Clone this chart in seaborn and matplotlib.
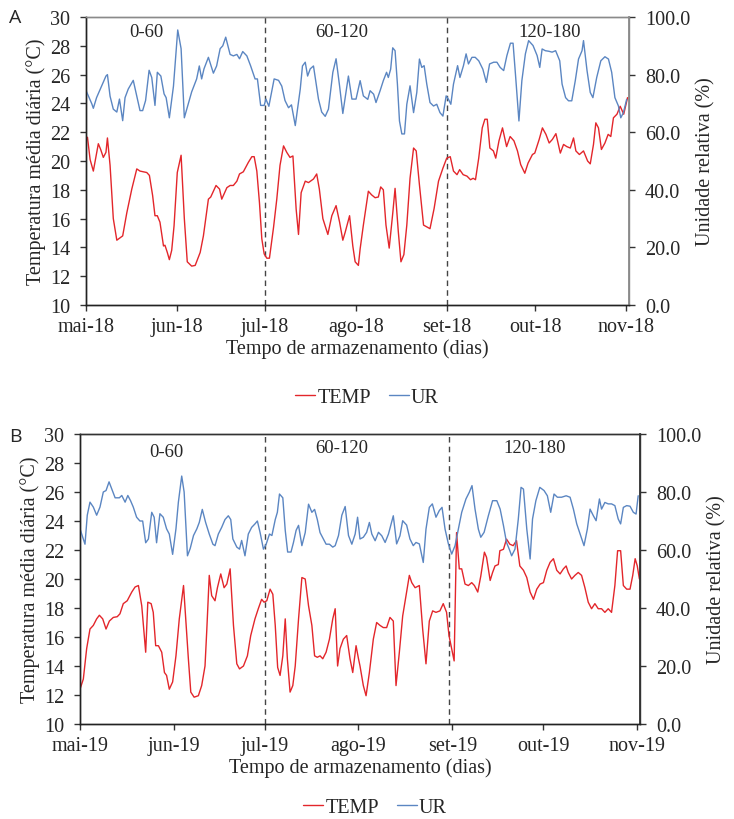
import numpy as np
import pandas as pd
import matplotlib
matplotlib.use("Agg")
import matplotlib.pyplot as plt
import seaborn as sns

# ---------------- data ----------------
periods = ["0-60", "60-120", "120-180"]
series_names = ["TEMP", "UR"]

xlabels_a = ["mai-18", "jun-18", "jul-18", "ago-18", "set-18", "out-18", "nov-18"]
xlabels_b = ["mai-19", "jun-19", "jul-19", "ago-19", "set-19", "out-19", "nov-19"]
month_offsets = [0, 31, 61, 92, 123, 153, 184]   # days after 1 May

# Panel A (2018) - temperature (°C), day offsets after 1 May
a_temp_day = [0.5, 1.4, 2.5, 4.2, 5, 5.9, 6.8, 7.3, 8.2, 9.3, 10.5, 12.5, 13.9, 15.6, 17.3, 18.4,
              20.7, 21.6, 22.7, 23.5, 24.3, 25.2, 26.4, 26.9, 27.7, 28.4, 29.2, 30, 31.1, 32.4,
              33.5, 34.5, 36, 37.2, 38.9, 40, 41.7, 42.5, 44.3, 45.5, 46.25, 48, 49.1, 50.2,
              51.4, 52.3, 53.6, 55.3, 56.5, 57.3, 58.2, 59.1, 59.9, 60.7, 61.6, 62.5, 63.9, 65,
              66.1, 67.3, 68.4, 69.5, 70.5, 71.6, 72.4, 73.3, 74.7, 75.8, 77.5, 78.6, 79.5,
              80.7, 82.4, 83.75, 85.2, 86.4, 87.5, 88.3, 89.8, 90.9, 91.7, 92.8,
              93.4, 94.5, 96.2, 97.3, 98.5, 99.6, 100.4, 101.3, 102.2, 103.3, 104.5, 105.3,
              106.4, 107.3, 108.3, 109.3, 110.4, 111.6, 112.5, 113.6, 115, 115.9, 117.2, 118.6,
              120.1, 121.6, 122.9, 124.1, 125.2, 126.4, 127.3, 128.5, 129.8, 131, 131.9, 132.7,
              133.8, 135, 135.9, 136.7, 137.6, 138.8, 139.6, 140.7, 141.9, 143.3, 144.5, 145.8,
              147, 148.1, 149.5, 150.6, 152.1, 152.9, 154.4, 155.5, 156.7, 157.8, 158.9, 160.1,
              161.6, 162.7, 163.8, 165, 166.1, 166.9, 168.1, 169.5, 170.9, 171.8, 172.9, 173.7,
              174.6, 175.6, 176.8, 177.9, 178.8, 179.7, 180.9, 182, 183.2, 184.5]
a_temp = [21.65, 20.1, 19.3, 21.2, 20.8, 20.25, 20.6, 21.6, 19.7, 16.0, 14.5, 14.8, 16.4, 18.05,
          19.45, 19.3, 19.2, 19.0, 17.6, 16.2, 16.2, 15.75, 14.1, 14.15, 13.65, 13.15, 13.8, 15.5,
          19.2, 20.4, 16.0, 13.0, 12.7, 12.75, 13.65, 14.8, 17.35, 17.5, 18.3, 18.05, 17.35,
          18.15, 18.3, 18.3, 18.6, 19.1, 19.25, 19.9, 20.3, 20.3, 19.3, 17.1, 14.6, 13.55, 13.25,
          13.25, 15.4, 17.35, 19.7, 21.05, 20.6, 20.25, 20.35, 16.65, 14.9, 17.8, 18.6, 18.5,
          18.75, 19.1, 18.05, 16.0, 14.9, 16.2, 16.9, 15.75, 14.5, 15.05, 16.2, 14.1, 13.0, 12.75,
          13.9, 15.55, 17.9, 17.65, 17.45, 17.5, 18.2, 18.0, 15.55, 13.95, 16.35, 18.1, 15.1,
          13.0, 13.5, 15.55, 18.8, 20.9, 20.7, 18.35, 15.55, 15.45, 15.3, 16.7, 18.6, 19.5, 20.2,
          20.3, 19.3, 19.05, 19.4, 19.05, 18.95, 18.7, 18.8, 18.7, 20.2, 22.3, 22.9, 22.9, 20.9,
          20.7, 20.2, 21.4, 22.3, 21.0, 21.7, 21.4, 20.7, 19.75, 19.15, 19.85, 20.45, 20.55,
          21.5, 22.3, 21.85, 21.25, 21.5, 21.9, 20.55, 21.15, 21.0, 20.9, 21.6, 20.7, 20.45,
          20.7, 20.0, 19.8, 21.15, 22.65, 22.3, 20.8, 21.25, 21.85, 21.7, 23.0, 23.25, 23.8,
          23.25, 24.4]

# Panel A (2018) - relative humidity (%)
a_ur_day = [0, 2, 2.5, 3.6, 5.3, 6.8, 7.3, 8.2, 9.3, 10.5, 11.4, 12.5, 13.3, 14.4, 16.1, 17.3,
            18.4, 19.3, 20.3, 21.5, 22.4, 23.5, 24.3, 25.5, 26.6, 27.3, 28.4, 29.8, 31.25, 32.4,
            33.5, 34.7, 36, 37.7, 38.6, 39.4, 40.2, 41.7, 43.4, 44.5, 45.7, 46.6, 47.6, 49.1,
            50.2, 51.4, 52.3, 53.4, 54.8, 56.1, 57.6, 58.4, 59.5, 60.7, 61.3, 62.3, 64.1, 65.6,
            66.7, 67.8, 69, 70, 71.3, 73, 73.75, 74.7, 75.5, 76.4, 77.5, 79.2, 80.3, 81.5, 82.6,
            84.1, 85.2, 86.4, 87.5, 89.4, 90.6, 92,
            93.4, 94.5, 96, 96.8, 98, 98.8, 100.2, 101.3, 102.4, 103, 103.8, 104.5, 105.3, 106.1,
            106.8, 107.6, 108.5, 109.3, 110.4, 111.6, 112.7, 113.6, 114.4, 115.2, 116.1, 117.2,
            118.4, 119.5, 120.6, 121.6, 122.7, 123.5, 124.3, 125.2, 126.6, 127.4, 128.6, 129.5,
            130.3, 131.5, 132.6, 133.8, 135.2, 136.4, 137.5, 138.9, 140, 141.1, 142.3, 143.4,
            144.6, 145.5, 146.4, 147.5, 148.5, 149.7, 150.8, 152.3, 153.7, 154.6, 155.4, 156.5,
            157.7, 158.8, 160, 161.4, 162.2, 163.4, 164.4, 165.5, 166.7, 167.8, 169, 169.5,
            170.7, 171.8, 172.7, 174, 175.4, 176.8, 178, 179.1, 180.2, 181.4, 182.2, 183.1, 184.2]
a_ur = [74.5, 69.8, 68.3, 72, 76, 79.5, 80, 72.5, 68, 67, 71.5, 64, 72, 75, 78, 72.5, 67.5, 67.5,
        71, 81.5, 79, 69.3, 80.8, 79.5, 73.3, 72, 65, 76, 95.5, 89, 65, 69.3, 74, 78.5, 83, 78.5,
        82, 86, 80.5, 83, 89, 90, 93, 87, 86.5, 87, 85.5, 88, 86.5, 83, 78.5, 78.5, 69.3, 69.3,
        71.5, 69, 78.5, 78, 76, 71, 68.5, 69.5, 62.3, 75, 83, 84.3, 79.5, 82, 83, 71.5, 67, 65.5,
        68, 80.8, 85.5, 76, 66.5, 79.5, 71.5, 71.5,
        77.9, 72.6, 71.4, 74.4, 73.2, 70.3, 74.4, 77.9, 80.8, 79, 81.9, 89.3, 88.3, 76.7, 63.9,
        59.4, 59.4, 69.7, 76.1, 66.8, 73.8, 85.4, 82.5, 83.1, 76.7, 70.3, 69.1, 69.7, 66.8, 65.6,
        72.6, 71.4, 69.7, 76.7, 83.1, 79, 83.1, 87.2, 83.7, 86, 86, 84.8, 81.9, 77.3, 83.7, 84.3,
        84.3, 82.5, 81.4, 86.6, 90.9, 90.9, 79, 63.9, 77.9, 87.2, 91.8, 90.1, 86.6, 82.5, 88.9,
        88.3, 88.1, 87.8, 88.3, 84.8, 76.7, 72, 70.9, 70.9, 77.9, 85.4, 88.3, 91.8, 81.4, 73.8,
        72, 79, 84.8, 86.2, 85.4, 80.8, 72, 69.1, 65, 66.8, 71.4]

# Panel B (2019) - temperature (°C)
b_temp_day = [0, 1.1, 2.2, 3.3, 4.4, 5.5, 6.4, 7.5, 8.6, 9.7, 11, 12.3, 13.2, 14.3, 15.6, 17.1,
              18.2, 19.3, 20.4, 21.7, 22.4, 23.5, 24.2, 25, 25.9, 27, 27.9, 28.6, 29.5, 30.6,
              31.7, 32.8, 34.2, 35, 35.8, 36.6, 37.7, 39.1, 40.2, 41.3, 41.9, 42.7, 43.5, 44.6,
              45.4, 46.5, 47.6, 48.5, 49.6, 50.7, 51.8, 52.7, 54, 55.3, 56.4, 57.8, 58.9, 60,
              60.8, 61.7, 62.8, 63.7, 64.5, 65.3, 66.1, 67, 67.8, 68.5, 69.4, 70.3, 71.1, 72.2,
              73.3, 74.4, 75.5, 76.6, 77.5, 78.4, 79.3, 80.2, 81.3, 82.4, 83.5, 84.3, 85.1, 85.9,
              87, 88.1, 89.2, 90.1, 91.2, 92,
              92.5, 93.6, 94.5, 95.6, 96.9, 98, 99.1, 100.2, 101.3, 102.4, 103.5, 104.4, 105.5,
              106.6, 107.9, 108.8, 109.6, 110.7, 112.1, 113.2, 114.3, 115.4, 116.5, 117.6, 118.9,
              120, 121.1, 121.9, 123.6, 124.4, 125.3, 126.1, 127.2, 128.3, 129.4, 130.3, 131.4,
              132.4, 133.6, 134.3, 135.5, 136.3, 137.1, 138.2, 138.7, 139.9, 140.9, 142, 143.1,
              144.2, 145.3, 146.5, 147.6, 148.7, 149.8, 150.9, 152, 153.1, 154.2, 155.3, 156.4,
              157.5, 158.6, 159.7, 160.6, 161.3, 162.4, 163.5, 164.6, 165.7, 166.8, 167.9, 169,
              170.1, 171.2, 172.3, 173.4, 174.5, 175.6, 176.7, 177.6, 178.6, 179.5, 180.6, 181.7,
              182.6, 183.4, 184.1, 184.8]
b_temp = [12.4, 13.1, 15.2, 16.55, 16.8, 17.25, 17.5, 17.25, 16.55, 17.1, 17.35, 17.4, 17.6, 18.3,
          18.5, 19.1, 19.45, 19.55, 18.15, 14.95, 18.4, 18.3, 17.7, 15.4, 15.4, 14.95, 13.55,
          13.35, 12.4, 12.9, 14.7, 17.25, 19.55, 17.0, 14.5, 12.2, 11.85, 11.95, 12.65, 14.0,
          16.55, 20.25, 18.85, 18.5, 19.4, 20.35, 19.4, 19.65, 20.7, 16.8, 14.15, 13.8, 14.0,
          14.7, 16.1, 17.25, 17.95, 18.6, 18.4, 18.5, 19.3, 18.95, 16.8, 13.9, 13.35, 14.7, 17.25,
          14.5, 12.2, 12.65, 14.0, 17.25, 20.1, 20.0, 18.15, 16.8, 14.7, 14.6, 14.7, 14.5, 14.95,
          15.85, 17.25, 17.95, 14.0, 15.2, 15.85, 16.1, 14.5, 13.55, 15.4, 14.5,
          14.0, 12.65, 11.95, 13.55, 15.85, 17.0, 16.8, 16.65, 16.65, 17.35, 17.1, 12.65, 14.95,
          17.45, 19.1, 20.25, 19.75, 19.4, 19.55, 16.55, 14.15, 17.1, 17.8, 17.7, 17.8, 18.3,
          17.7, 16.1, 14.35, 23.2, 20.7, 20.7, 19.65, 19.55, 19.75, 19.55, 19.1, 20.2, 21.85,
          21.5, 19.9, 20.45, 20.9, 21.0, 21.95, 22.05, 22.75, 22.4, 22.3, 22.65, 20.9, 20.6, 20.1,
          19.1, 18.6, 19.3, 19.65, 19.75, 20.6, 21.15, 21.4, 20.6, 20.35, 20.7, 20.9, 20.45,
          20.0, 20.25, 20.45, 20.25, 19.4, 18.4, 17.95, 18.3, 17.95, 17.95, 17.7, 17.95, 17.7,
          19.55, 21.95, 21.95, 19.55, 19.3, 19.3, 20.25, 21.4, 20.9, 20.0]

# Panel B (2019) - relative humidity (%)
b_ur_day = [0, 1.65, 2.4, 3.3, 4.4, 5.5, 6.6, 7.7, 8.6, 9.6, 10.5, 11.6, 13, 13.8, 14.9, 15.8,
            16.7, 17.6, 18.7, 19.8, 20.7, 21.7, 22.6, 23.7, 24.5, 25.3, 26.4, 27.5, 28.6, 29.5,
            30.6, 31.7, 32.5, 33.6, 34.4, 35.5, 36.4, 37.5, 38.6, 39.4, 40.4, 41.5, 42.7, 43.9,
            44.6, 45.7, 46.8, 47.9, 49, 49.8, 50.5, 51.8, 52.7, 53.4, 54.5, 55.6, 56.7, 57.8,
            58.6, 59.5, 60.6, 61.5, 62.6, 63.4, 64.5, 65.2, 65.9, 67, 67.8, 68.6, 69.7, 70.5,
            71.4, 72.2, 73.3, 74.4, 75.5, 76.6, 77.5, 78.4, 79.3, 80.4, 81.3, 82.4, 83.5, 84.3,
            85.4, 86.5, 87.6, 88.7, 89.8, 90.9, 91.7,
            92.5, 93.6, 94.7, 95.6, 96.4, 97.5, 98.6, 99.7, 100.8, 101.9, 103.5, 104.6, 105.7,
            106.6, 107.9, 109, 110.1, 111, 112.1, 113.4, 114.3, 115.4, 116.4, 117.6, 118.7, 119.6,
            120.6, 121.7, 122.8, 123.9, 125, 126.1, 127.5, 128.6, 129.5, 130.5, 131.6, 132.4,
            133.5, 134.9, 136.3, 137.7, 138.8, 139.9, 140.9, 141.8, 142.6, 143.7, 144.8, 145.7,
            146.5, 147.6, 148.7, 149.5, 150.6, 151.9, 153.3, 154.4, 155.5, 156.6, 157.7, 159.1,
            160.6, 161.9, 163, 164.1, 165.4, 166.5, 167.6, 168.5, 169.6, 170.5, 171.6, 172.3,
            173.4, 174.5, 175.6, 176.7, 177.8, 178.6, 179.5, 180.6, 181.7, 182.8, 183.7, 184.4]
b_ur = [67.3, 62, 72, 76.5, 74.8, 72, 74.8, 80, 80.5, 83.5, 81, 78, 78, 78.8, 76.5, 78.8, 77,
        74.8, 71.3, 70, 70, 62.5, 63.8, 73, 71.3, 62.5, 72.5, 71.3, 67.3, 65.5, 58.5, 67.3, 76.5,
        85.5, 80, 58, 60.5, 65, 67.3, 69.5, 74, 69.5, 65.5, 62, 61.5, 65.5, 67.8, 70.5, 71.8,
        70.5, 63.8, 61, 60.3, 63.3, 58, 65.5, 67.8, 69, 70, 66, 60.3, 62, 65.5, 65, 70.5, 73,
        79.3, 78, 66.8, 59.3, 59.3, 62.5, 66.8, 68.5, 61.5, 66, 75.8, 73, 74, 70.5, 66, 63.8, 62,
        62, 61, 61.5, 65, 72, 75, 65, 62, 65.5, 71.3,
        63.8, 64.4, 66.1, 69.5, 65.5, 63.2, 66.1, 64.9, 62.6, 65.5, 71.8, 62.1, 64.9, 70.1, 68.6,
        63.8, 61.5, 62.6, 62.1, 55.7, 67.2, 74.7, 75.9, 71.3, 73.6, 74.7, 67.2, 62.1, 58.6, 61.5,
        67.2, 73.0, 77.6, 79.9, 82.2, 74.1, 67.2, 64.4, 66.1, 71.8, 77.0, 77.0, 74.1, 68.4, 62.6,
        60.3, 58.0, 60.3, 70.7, 81.6, 81.0, 67.2, 56.9, 70.7, 77.0, 81.6, 80.5, 78.7, 73.0, 79.3,
        78.2, 78.2, 78.7, 78.2, 74.1, 69.0, 64.9, 61.5, 67.2, 74.1, 71.8, 70.1, 77.6, 74.1, 76.4,
        75.9, 75.9, 75.3, 70.7, 69.0, 74.7, 75.3, 75.1, 73.0, 72.4, 78.7]

period_bounds_a = [61, 123]   # dashed separators (days after 1 May)
period_bounds_b = [61, 122]

# ---------------- style ----------------
sns.set_theme(style="ticks")
plt.rcParams["font.family"] = ["Liberation Serif", "DejaVu Serif"]

RED = "#E3262B"
BLUE = "#5B86C2"
FS = 14.5
FS_PER = 13.5

fig = plt.figure(figsize=(7.34, 8.2), dpi=100)


def draw_panel(rect, year, t_day, t_val, u_day, u_val, xlabels, bounds, per_pos,
               spine_col, letter, letter_y, legend_y, legend_x):
    start = pd.Timestamp(f"{year}-05-01")
    ax = fig.add_axes(rect)
    ax2 = ax.twinx()
    dft = pd.DataFrame({"date": start + pd.to_timedelta(t_day, unit="D"), "v": t_val})
    dfu = pd.DataFrame({"date": start + pd.to_timedelta(u_day, unit="D"), "v": u_val})
    sns.lineplot(data=dft, x="date", y="v", ax=ax, color=RED, lw=1.0,
                 estimator=None, label=series_names[0], legend=False)
    sns.lineplot(data=dfu, x="date", y="v", ax=ax2, color=BLUE, lw=1.0,
                 estimator=None, label=series_names[1], legend=False)
    ax.set_ylim(10, 30)
    ax.set_yticks(np.arange(10, 31, 2))
    ax2.set_ylim(0, 100)
    ax2.set_yticks(np.arange(0, 101, 20))
    ax2.set_yticklabels([f"{v:.1f}" for v in np.arange(0, 101, 20)])
    ax.set_xlim(start, start + pd.Timedelta(days=185))
    ticks = [start + pd.Timedelta(days=d) for d in month_offsets]
    ax.set_xticks(ticks)
    ax.set_xticklabels(xlabels)
    for b in bounds:
        ax.axvline(start + pd.Timedelta(days=b), color="#444444", lw=1.0,
                   ls=(0, (4, 3)), zorder=1)
    ax.set_xlabel("Tempo de armazenamento (dias)", fontsize=FS, labelpad=2)
    ax.set_ylabel("Temperatura média diária (°C)", fontsize=FS, labelpad=3)
    ax2.set_ylabel("Unidade relativa (%)", fontsize=FS, labelpad=4)
    for a in (ax, ax2):
        a.tick_params(labelsize=FS, direction="out", length=4.5, width=1, color="#333333")
        for s in a.spines.values():
            s.set_linewidth(1.0)
            s.set_color("#222222")
        a.set_facecolor("none")
    ax.tick_params(axis="x", pad=4)
    ax.tick_params(axis="y", pad=7)
    ax2.tick_params(axis="y", pad=7)
    for a in (ax, ax2):
        a.spines["top"].set_color(spine_col)
        a.spines["right"].set_color(spine_col)
    ax2.spines["right"].set_linewidth(1.3)
    for txt, (px, py) in zip(periods, per_pos):
        ax.text(px, py, txt, transform=ax.transAxes, ha="center", va="center",
                fontsize=FS_PER)
    fig.text(0.012, letter_y, letter, fontsize=14, family=["Open Sans", "DejaVu Sans"],
             va="center", ha="left")
    handles = ax.get_lines()[:1] + ax2.get_lines()[:1]
    fig.legend(handles, series_names, loc="center", bbox_to_anchor=(legend_x, legend_y),
               ncol=2, frameon=False, fontsize=FS, handlelength=1.0, handletextpad=0.1,
               columnspacing=0.9)


draw_panel([86 / 734, 1 - 306 / 820, 543 / 734, 288 / 820], 2018, a_temp_day, a_temp,
           a_ur_day, a_ur, xlabels_a, period_bounds_a,
           [(0.112, 0.948), (0.471, 0.948), (0.853, 0.948)],
           "#8a8a8a", "A", 1 - 18 / 820, 1 - 398 / 820, 367 / 734)

draw_panel([80 / 734, 1 - 725 / 820, 560 / 734, 290 / 820], 2019, b_temp_day, b_temp,
           b_ur_day, b_ur, xlabels_b, period_bounds_b,
           [(0.154, 0.941), (0.468, 0.952), (0.811, 0.952)],
           "#333333", "B", 1 - 437 / 820, 1 - 808 / 820, 375 / 734)

fig.savefig("out.png", dpi=100)
